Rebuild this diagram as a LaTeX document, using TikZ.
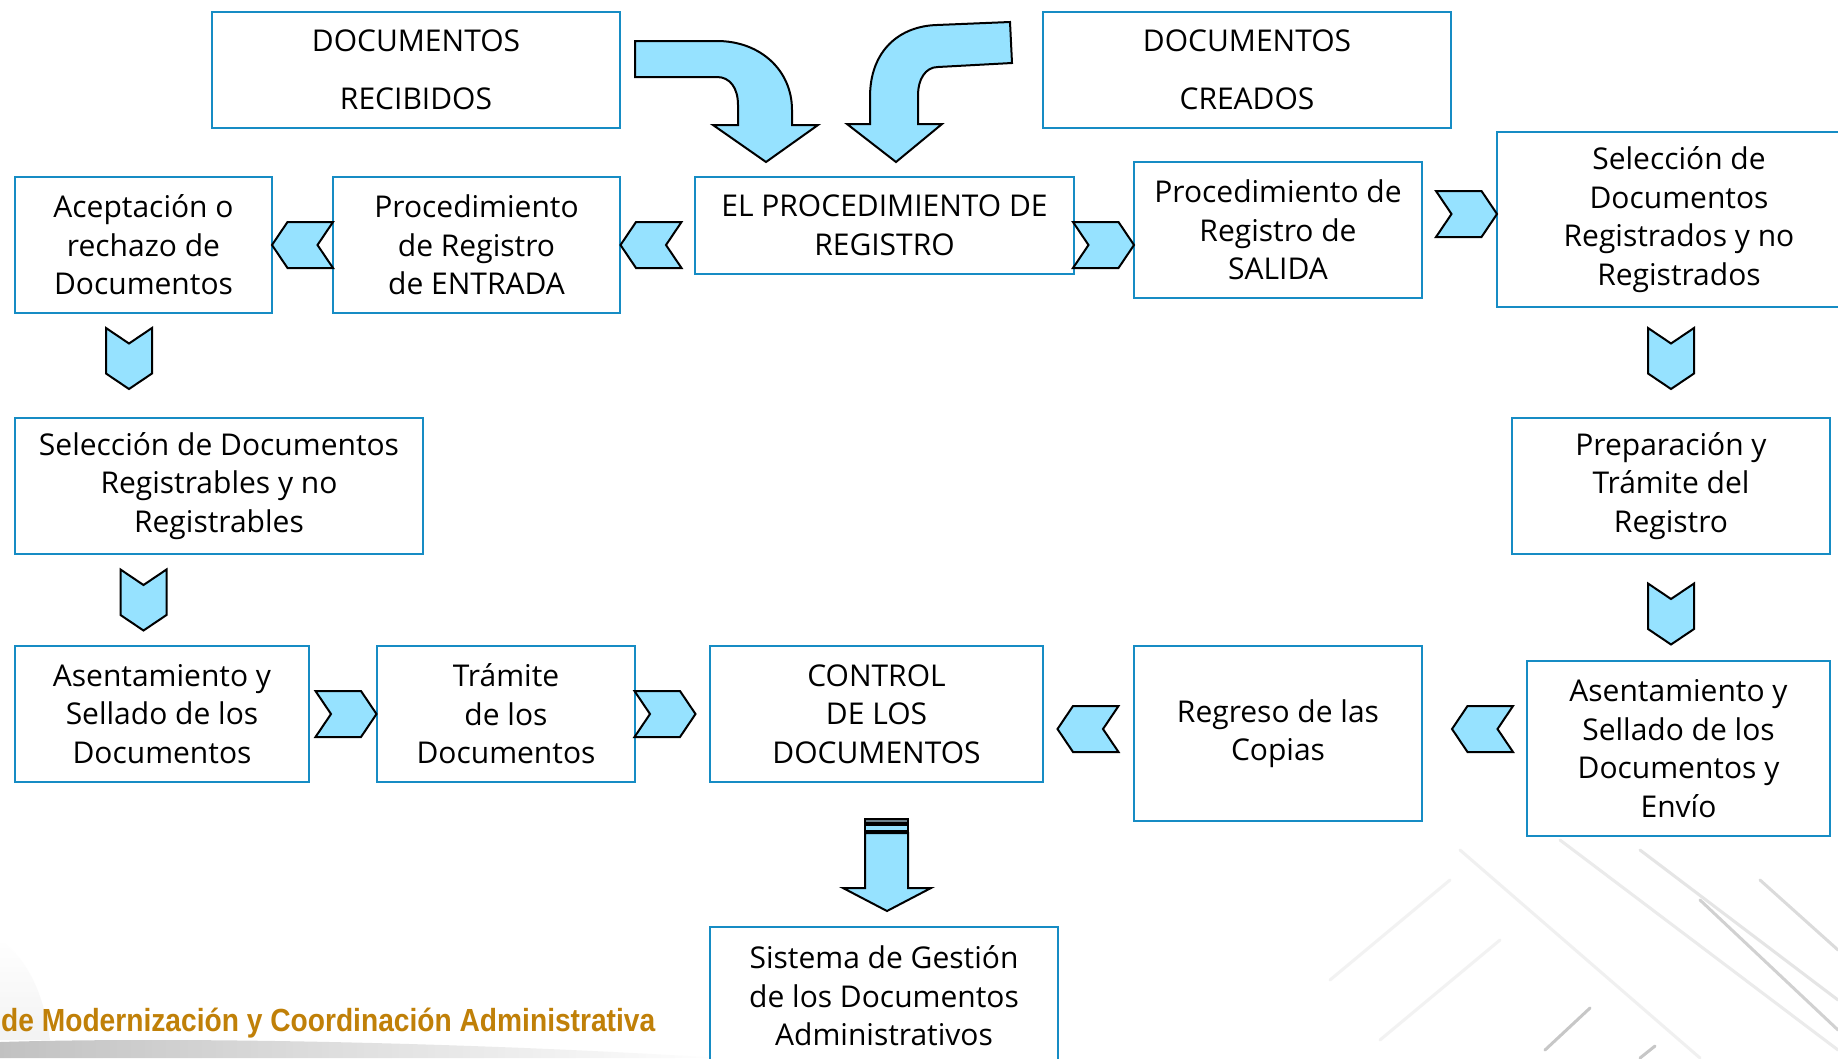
\documentclass[tikz,border=0pt]{standalone}
\usepackage{fontspec}
\setmainfont{Open Sans}
\newfontfamily\footfont[FakeStretch=0.88]{Liberation Sans Bold}
\usetikzlibrary{calc}
\definecolor{boxblue}{RGB}{22,140,196}
\definecolor{arrowcyan}{RGB}{150,226,255}
\definecolor{footgold}{RGB}{192,128,8}
\definecolor{stripe}{RGB}{110,130,140}
\tikzset{
  box/.style={draw=boxblue, line width=2pt, align=center, inner sep=0pt,
    font=\fontsize{30}{38.5}\selectfont},
  blockarrow/.style={draw=black, fill=arrowcyan, line width=2pt, line join=miter},
  chev/.pic={\draw[blockarrow] (-30.5,-23) -- (15,-23) -- (30.5,0) -- (15,23) -- (-30.5,23) -- (-15,0) -- cycle;},
  faint/.style={line cap=round, line width=3pt}
}
\begin{document}
\begin{tikzpicture}[x=1pt,y=-1pt]
\useasboundingbox (0,0) rectangle (1838,1058);
\fill[white] (0,0) rectangle (1838,1058);
% background decoration
\shade[left color=black!40, right color=white, opacity=0.6]
  (0,1058) -- (0,1042) .. controls (200,1036) and (500,1044) .. (720,1058) -- cycle;
\shade[top color=white, bottom color=black!8, opacity=0.6]
  (0,940) .. controls (30,960) and (45,1000) .. (50,1040) -- (0,1040) -- cycle;
\draw[faint, black!8] (1560,840) -- (1838,1050);
\draw[faint, black!10] (1640,850) -- (1838,1000);
\draw[faint, black!18] (1700,900) -- (1838,1030);
\draw[faint, black!14] (1760,880) -- (1838,950);
\draw[faint, black!6] (1460,850) -- (1700,1058);
\draw[faint, black!5] (1330,980) -- (1450,880);
\draw[faint, black!5] (1380,1040) -- (1500,940);
\draw[faint, black!22] (1545,1050) -- (1590,1008);
\draw[faint, black!22] (1640,1058) -- (1655,1046);

% boxes
\node[box, minimum width=408, minimum height=116] (rec) at (416,70) {DOCUMENTOS\\[19pt]RECIBIDOS};
\node[box, minimum width=408, minimum height=116] (cre) at (1247,70) {DOCUMENTOS\\[19pt]CREADOS};
\node[box, minimum width=257, minimum height=136] (acep) at (143.5,245) {Aceptación o\\rechazo de\\Documentos};
\node[box, minimum width=287, minimum height=136] (entr) at (476.5,245) {Procedimiento\\de Registro\\de ENTRADA};
\node[box, minimum width=379, minimum height=97] (proc) at (884.5,225.5) {EL PROCEDIMIENTO DE\\REGISTRO};
\node[box, minimum width=288, minimum height=136] (sal) at (1278,230) {Procedimiento de\\Registro de\\SALIDA};
\node[box, minimum width=364, minimum height=175] (selreg) at (1679,219.5) {Selección de\\Documentos\\Registrados y no\\Registrados};
\node[box, minimum width=408, minimum height=136] (selrgb) at (219,486) {Selección de Documentos\\Registrables y no\\Registrables};
\node[box, minimum width=318, minimum height=136] (prep) at (1671,486) {Preparación y\\Trámite del\\Registro};
\node[box, minimum width=294, minimum height=136] (asl) at (162,714) {Asentamiento y\\Sellado de los\\Documentos};
\node[box, minimum width=258, minimum height=136] (tram) at (506,714) {Trámite\\de los\\Documentos};
\node[box, minimum width=333, minimum height=136] (ctrl) at (876.5,714) {CONTROL\\DE LOS\\DOCUMENTOS};
\node[box, minimum width=288, minimum height=175] (regr) at (1278,733.5) {Regreso de las\\Copias};
\node[box, minimum width=303, minimum height=175] (asr) at (1678.5,748.5) {Asentamiento y\\Sellado de los\\Documentos y\\Envío};
\node[box, minimum width=348, minimum height=138] (sis) at (884,996) {Sistema de Gestión\\de los Documentos\\Administrativos};

% chevrons
\pic[rotate=180] at (302.5,245) {chev};
\pic[rotate=180] at (651,245) {chev};
\pic at (1103.5,245) {chev};
\pic at (1466.5,214) {chev};
\pic[rotate=-90] at (129,358.5) {chev};
\pic[rotate=-90] at (143.5,600) {chev};
\pic[rotate=-90] at (1671,358.5) {chev};
\pic[rotate=-90] at (1671,614) {chev};
\pic at (346,714) {chev};
\pic at (665,714) {chev};
\pic[rotate=180] at (1088,729) {chev};
\pic[rotate=180] at (1482.5,729) {chev};

% curved arrows
\draw[blockarrow] (635,41) -- (717,41) .. controls (760,41) and (792,70) .. (792,110)
  -- (792,125) -- (818,125) -- (766,162) -- (713,125) -- (738,125) -- (738,105)
  .. controls (738,88) and (730,77) .. (717,77) -- (635,77) -- cycle;
\draw[blockarrow] (870,124) -- (870,97) .. controls (870,50) and (900,26) .. (937,25)
  -- (1010,22) -- (1012,63) -- (938,67) .. controls (925,67) and (918,80) .. (918,95)
  -- (918,124) -- (942,124) -- (896,162) -- (847,124) -- cycle;

% bottom arrow
\draw[blockarrow, fill=stripe, line width=1.5pt] (865,819) rectangle (908,823);
\draw[blockarrow, line width=1.5pt] (865,825) rectangle (908,831);
\draw[blockarrow] (865,833) -- (908,833) -- (908,888) -- (931,888) -- (887,911)
  -- (843,888) -- (865,888) -- cycle;

% footer
\node[anchor=base west, inner sep=0pt, text=footgold, font=\footfont\fontsize{32}{36}\selectfont] (foot) at (1,1031)
  {de Modernización y Coordinación Administrativa};
\end{tikzpicture}
\end{document}
